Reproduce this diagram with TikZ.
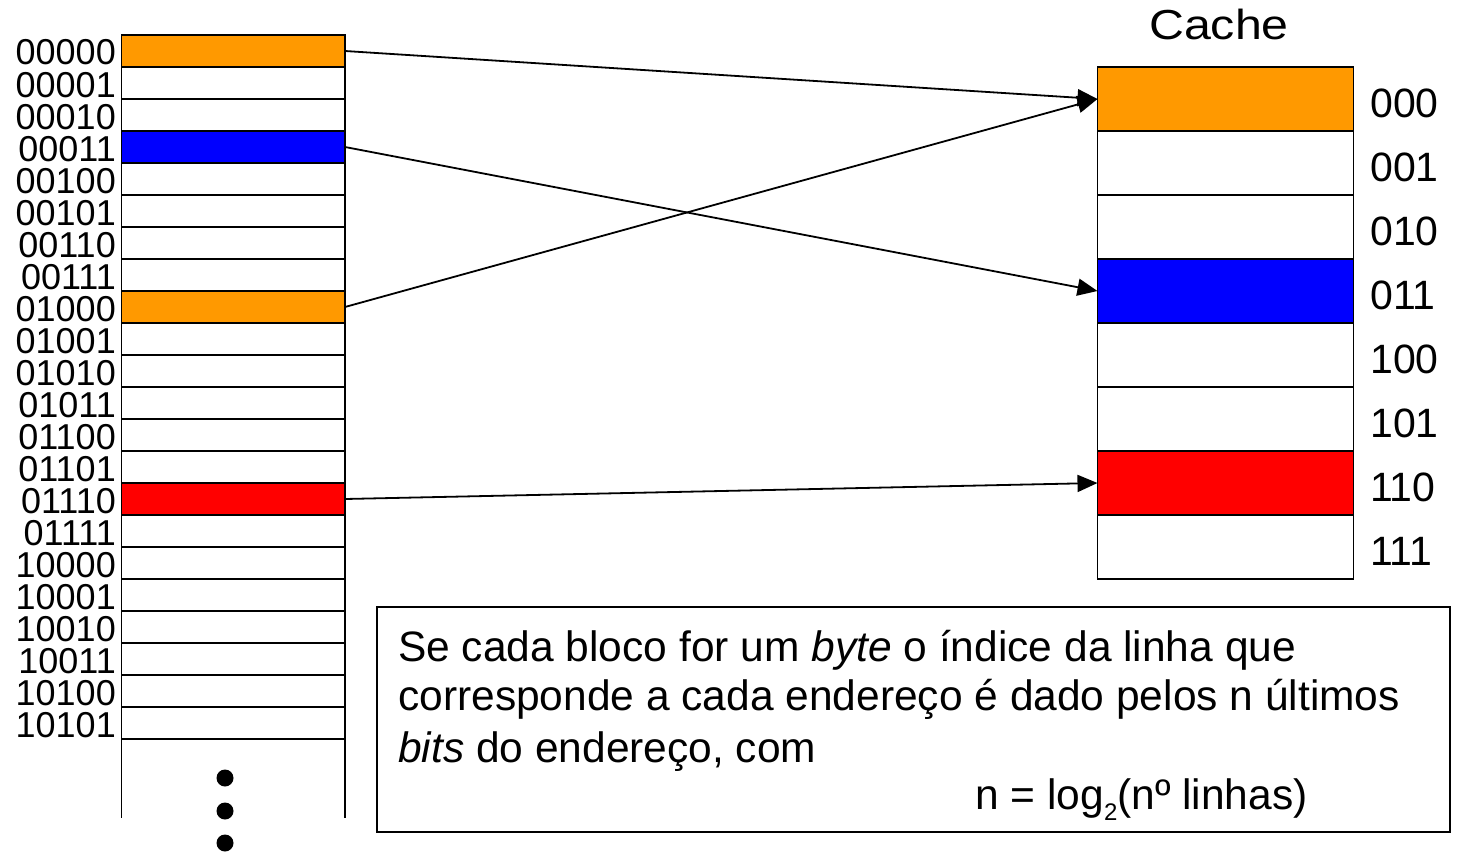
\documentclass[tikz,border=0pt]{standalone}
\usepackage{fontspec}
\setmainfont{Liberation Sans}
\usetikzlibrary{arrows.meta}
\definecolor{memorange}{RGB}{255,153,0}
\definecolor{memblue}{RGB}{0,0,255}
\definecolor{memred}{RGB}{255,0,0}
\tikzset{
  memrow/.style={draw, line width=1.8pt, minimum width=223.5pt, minimum height=32pt, inner sep=0pt, outer sep=0pt},
  cacherow/.style={draw, line width=1.8pt, minimum width=256pt, minimum height=64pt, inner sep=0pt, outer sep=0pt},
  memlbl/.style={anchor=base east, inner sep=0pt, text height=25pt, text depth=0pt, font=\fontsize{36}{36}\selectfont},
  cachelbl/.style={anchor=base west, inner sep=0pt, text height=30pt, text depth=0pt, font=\fontsize{41}{41}\selectfont},
  boxtxt/.style={anchor=base west, inner sep=0pt, font=\fontsize{42.5}{42.5}\selectfont},
  arr/.style={line width=1.8pt, -{Triangle[length=20pt,width=17pt]}},
  dotmark/.style={circle, fill=black, minimum size=17pt, inner sep=0pt},
}
\begin{document}
\begin{tikzpicture}[x=1pt,y=-1pt]
\useasboundingbox (0,0) rectangle (1458,851);
% memory column
\foreach \i/\lab/\c in {0/00000/memorange,1/00001/white,2/00010/white,3/00011/memblue,4/00100/white,5/00101/white,6/00110/white,7/00111/white,8/01000/memorange,9/01001/white,10/01010/white,11/01011/white,12/01100/white,13/01101/white,14/01110/memred,15/01111/white,16/10000/white,17/10001/white,18/10010/white,19/10011/white,20/10100/white,21/10101/white}{
  \node[memrow, fill=\c] (m\i) at (233.25, {51+32*\i}) {};
  \node[memlbl] (l\i) at (116, {65+32*\i}) {\lab};
}
\draw[line width=1.8pt] (m21.south west) -- ++(0,79);
\draw[line width=1.8pt] (m21.south east) -- ++(0,79);
\node[dotmark] (d1) at (225,778) {};
\node[dotmark] (d2) at (225,811) {};
\node[dotmark] (d3) at (225,843) {};
% cache
\node[anchor=base, inner sep=0pt, font=\fontsize{42}{42}\selectfont] (ctitle) at (1219,40) {\scalebox{1.15}[1]{Cache}};
\foreach \i/\lab/\c in {0/000/memorange,1/001/white,2/010/white,3/011/memblue,4/100/white,5/101/white,6/110/memred,7/111/white}{
  \node[cacherow, fill=\c] (c\i) at (1225.5, {99+64*\i}) {};
  \node[cachelbl] (cl\i) at (1370, {117+64*\i}) {\lab};
}
% arrows
\draw[arr] (m0.east) -- (c0.west);
\draw[arr] (m3.east) -- (c3.west);
\draw[arr] (m8.east) -- (c0.west);
\draw[arr] (m14.east) -- (c6.west);
% text box
\node[draw, line width=1.5pt, anchor=north west, minimum width=1073pt, minimum height=225pt, inner sep=0pt] (tb) at (376,606) {};
\node[boxtxt] (t1) at (398,661) {Se cada bloco for um \textit{byte} o índice da linha que};
\node[boxtxt] (t2) at (398,710) {corresponde a cada endereço é dado pelos n últimos};
\node[boxtxt] (t3) at (398,762) {\textit{bits} do endereço, com};
\node[boxtxt] (t4) at (975,809) {n = log\raisebox{-11pt}{\fontsize{24}{24}\selectfont 2}(nº linhas)};
\end{tikzpicture}
\end{document}
